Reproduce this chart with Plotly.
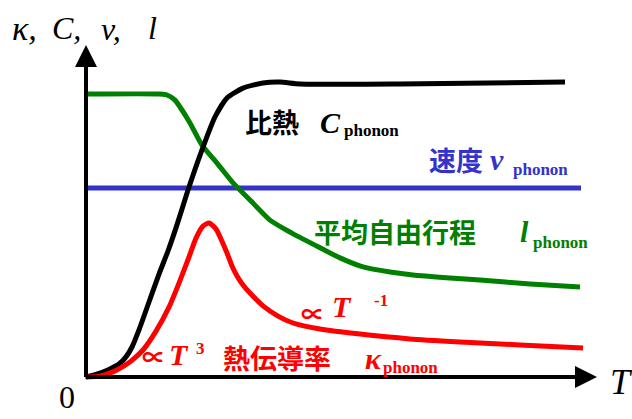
import plotly.graph_objects as go

# Temperature axis (arbitrary units, 0..100) and the four phonon quantities
T_mfp = [0, 14.8, 16.2, 17.8, 18.8, 20.8, 23.2, 26.2, 29.4, 32.8, 36.8, 40.8, 45.4, 50.8, 55.4, 60.8, 65.4, 72.8, 78.8, 88.8, 98.8]
mfp = [94.3, 94.3, 94.0, 92.3, 90.0, 84.7, 77.3, 71.3, 64.7, 59.0, 52.3, 48.3, 44.3, 39.7, 36.7, 35.0, 34.0, 33.0, 32.3, 31.0, 30.0]

T_heat = [0, 2.8, 4.8, 6.6, 8.0, 9.2, 10.6, 12.6, 14.6, 16.4, 18.0, 20.4, 23.2, 25.8, 28.2, 31.4, 35.4, 38.8, 42.8, 62.8, 95.8]
heat = [0, 1.3, 2.7, 4.3, 6.7, 10.0, 15.7, 25.0, 34.3, 42.0, 49.7, 62.3, 75.7, 86.7, 93.0, 96.3, 98.0, 98.3, 97.7, 97.7, 98.3]

T_kappa = [0, 2.8, 5.4, 7.2, 9.0, 11.4, 14.0, 16.6, 18.6, 20.6, 22.0, 23.4, 24.6, 26.0, 28.2, 29.2, 30.2, 31.4, 32.8, 35.4, 38.4, 41.4, 46.8, 54.8, 64.8, 74.8, 86.8, 99.4]
kappa = [0, 0.3, 1.7, 3.3, 5.3, 9.0, 15.3, 23.3, 31.3, 40.0, 46.3, 50.3, 51.3, 49.3, 41.3, 37.0, 33.7, 30.7, 28.0, 23.7, 20.3, 18.0, 16.0, 14.3, 12.7, 11.7, 10.7, 9.7]

T_vel = [0, 99.0]
vel = [63.0, 63.0]

BLACK = "#000000"
BLUE = "#3333CC"
GREEN = "#008000"
RED = "#FF0000"

SERIF = "Liberation Serif"
CJK = "Noto Sans CJK JP"

fig = go.Figure()
for xs, ys, col in [(T_vel, vel, BLUE), (T_mfp, mfp, GREEN), (T_heat, heat, BLACK), (T_kappa, kappa, RED)]:
    fig.add_trace(go.Scatter(x=xs, y=ys, mode="lines",
                             line=dict(color=col, width=5, shape="spline", smoothing=0.6),
                             hoverinfo="skip"))

W, H = 632, 419


def label(text, px, py, size, color, family=SERIF, bold=False, italic=False, anchor="left"):
    if bold:
        text = "<b>" + text + "</b>"
    if italic:
        text = "<i>" + text + "</i>"
    fig.add_annotation(text=text, x=px / W, y=1 - py / H, xref="paper", yref="paper",
                       xanchor=anchor, yanchor="middle", showarrow=False,
                       font=dict(family=family, size=size, color=color))


# Axes with arrow heads
for tip, tail in [((102.2, 0), (-0.4, 0)), ((0, 110.7), (0, -0.5))]:
    fig.add_annotation(x=tip[0], y=tip[1], ax=tail[0], ay=tail[1], xref="x", yref="y",
                       axref="x", ayref="y", text="", showarrow=True, arrowhead=2,
                       arrowsize=1.1, arrowwidth=4, arrowcolor=BLACK, standoff=0)

# Axis titles
label("κ,", 10, 29, 34, BLACK, italic=True)
label("C,", 50, 28, 32, BLACK, italic=True)
label("v,", 99, 29, 32, BLACK, italic=True)
label("l", 146, 28, 32, BLACK, italic=True)
label("0", 67, 397, 32, BLACK, anchor="center")
label("T", 608, 382, 36, BLACK, italic=True)

# Specific heat
label("比熱", 243, 121, 27, BLACK, family=CJK, bold=True)
label("C", 318, 122, 30, BLACK, bold=True, italic=True)
label("phonon", 342, 131, 17, BLACK, bold=True)

# Sound velocity
label("速度", 427, 160, 27, BLUE, family=CJK, bold=True)
label("v", 488, 160, 30, BLUE, bold=True, italic=True)
label("phonon", 511, 169, 17, BLUE, bold=True)

# Mean free path
label("平均自由行程", 312, 232, 27, GREEN, family=CJK, bold=True)
label("l", 518, 231, 30, GREEN, bold=True, italic=True)
label("phonon", 531, 242, 17, GREEN, bold=True)

# Thermal conductivity
label("∝", 299, 312, 24, RED, family=CJK, bold=True)
label("T", 330, 306, 30, RED, bold=True, italic=True)
label("-1", 372, 300, 17, RED, bold=True)
label("∝", 140, 355, 24, RED, family=CJK, bold=True)
label("T", 167, 354, 30, RED, bold=True, italic=True)
label("3", 194, 348, 17, RED, bold=True)
label("熱伝導率", 221, 357, 27, RED, family=CJK, bold=True)
label("κ", 363, 358, 30, RED, bold=True, italic=True)
label("phonon", 381, 367, 17, RED, bold=True)

fig.update_layout(width=W, height=H, margin=dict(l=0, r=0, t=0, b=0),
                  paper_bgcolor="white", plot_bgcolor="white", showlegend=False,
                  xaxis=dict(visible=False, range=[-17.2, 109.2], fixedrange=True),
                  yaxis=dict(visible=False, range=[-14, 125.667], fixedrange=True))

fig.write_html("out.html", config={"displayModeBar": False})
